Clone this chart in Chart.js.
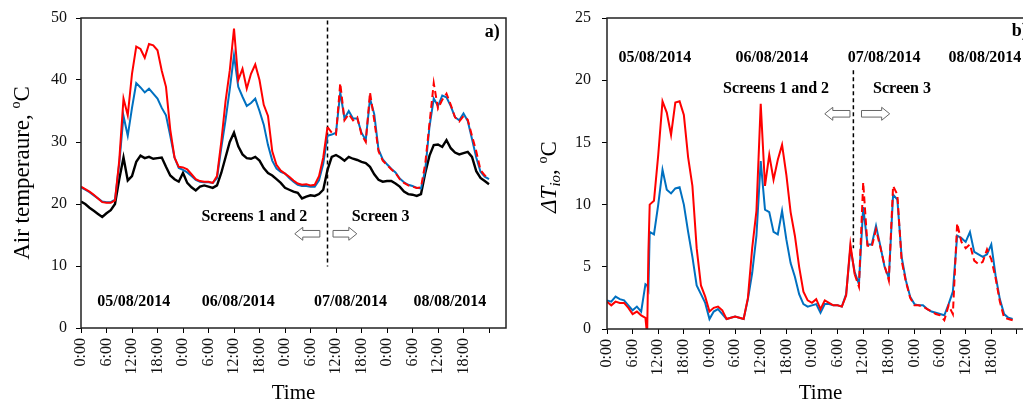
<!DOCTYPE html>
<html>
<head>
<meta charset="utf-8">
<script src="https://cdn.jsdelivr.net/npm/chart.js@4.4.0/dist/chart.umd.min.js"></script>
<style>
  html, body { margin: 0; padding: 0; overflow: hidden; background: #fff; width: 1023px; height: 408px; }
  canvas { position: absolute; top: 0; }
  #chartA { left: 0; }
  #chartB { left: 515px; }
</style>
</head>
<body>
<canvas id="chartA" width="515" height="408"></canvas>
<canvas id="chartB" width="530" height="408"></canvas>
<script>
// hours since 05/08/2014 0:00
const tickHours = [0, 6, 12, 18, 24, 30, 36, 42, 48, 54, 60, 66, 72, 78, 84, 90, 96];
const timeLabels = ['0:00', '6:00', '12:00', '18:00', '0:00', '6:00', '12:00', '18:00',
                    '0:00', '6:00', '12:00', '18:00', '0:00', '6:00', '12:00', '18:00'];
const dayLabels = ['05/08/2014', '06/08/2014', '07/08/2014', '08/08/2014'];

// a) air temperature
const hoursA = [0, 1, 2, 3, 4, 5, 6, 7, 8, 9, 10, 11, 12, 13, 14, 15, 16, 17, 18, 19,
  20, 21, 22, 23, 24, 25, 26, 27, 28, 29, 30, 31, 32, 33, 34, 35, 36, 37, 38, 39,
  40, 41, 42, 43, 44, 45, 46, 47, 48, 49, 50, 51, 52, 53, 54, 55, 56, 57, 58, 59,
  60, 61, 62, 63, 64, 65, 66, 67, 68, 69, 70, 71, 72, 73, 74, 75, 76, 77, 78, 79,
  80, 81, 82, 83, 84, 85, 86, 87, 88, 89, 90, 91, 92, 93, 94, 95, 96];
const redA = [22.8, 22.4, 22.0, 21.5, 20.9, 20.3, 20.2, 20.2, 20.6, 27.0,
  37.0, 34.3, 41.0, 45.4, 45.0, 43.6, 45.8, 45.6, 44.8, 41.5,
  38.9, 32.0, 27.5, 26.0, 25.9, 25.6, 24.8, 24.0, 23.7, 23.6,
  23.6, 23.4, 24.5, 30.0, 36.5, 41.5, 48.3, 40.0, 41.8, 38.6,
  41.0, 42.5, 40.0, 36.0, 34.2, 28.5, 26.3, 25.4, 24.9, 24.4,
  23.8, 23.3, 23.1, 23.2, 23.0, 23.1, 24.5, 27.5, 32.4, 31.5,
  31.2, 39.5, 33.5, 34.5, 33.5, 34.0, 31.2, 30.0, 38.0, 33.5,
  28.5, 27.0, 26.3, 25.6, 25.0, 24.0, 23.4, 23.0, 22.8, 22.6,
  22.7, 26.5, 33.0, 39.5, 35.4, 36.8, 37.8, 36.0, 34.0, 33.3,
  34.2, 33.6, 31.0, 28.5, 25.5, 24.6, 24.2];
const blueA = [22.7, 22.3, 21.9, 21.4, 20.9, 20.4, 20.3, 20.3, 20.7, 26.5,
  34.2, 31.0, 35.5, 39.5, 38.8, 38.0, 38.6, 37.8, 37.0, 35.5,
  34.3, 31.0, 27.5, 25.8, 25.5, 25.1, 24.5, 23.9, 23.6, 23.5,
  23.5, 23.4, 24.2, 29.0, 33.5, 38.5, 44.0, 38.9, 37.3, 35.8,
  36.3, 37.0, 35.0, 32.8, 29.5, 27.0, 25.7, 25.2, 24.9, 24.2,
  23.6, 23.1, 22.9, 22.9, 22.8, 22.8, 23.8, 26.5, 31.0, 31.2,
  31.5, 38.0, 33.8, 35.0, 33.8, 33.8, 31.5, 30.3, 37.0, 34.5,
  28.8, 27.2, 26.4, 25.7, 25.1, 24.1, 23.5, 23.1, 22.9, 22.6,
  22.5, 25.5, 32.5, 37.0, 35.8, 37.5, 37.2, 35.8, 34.0, 33.5,
  34.6, 33.4, 30.5, 27.5, 25.2, 24.4, 24.0];
const blackA = [20.4, 20.0, 19.4, 18.9, 18.4, 17.9, 18.5, 19.0, 20.0, 24.0,
  27.5, 23.8, 24.5, 26.8, 27.8, 27.4, 27.6, 27.3, 27.4, 27.5,
  26.0, 24.6, 24.0, 23.6, 25.0, 23.4, 22.7, 22.2, 22.8, 23.0,
  22.8, 22.6, 23.0, 25.0, 27.5, 30.0, 31.5, 29.3, 28.0, 27.4,
  27.3, 27.6, 27.0, 25.8, 25.0, 24.6, 24.0, 23.4, 22.6, 22.3,
  22.0, 21.8, 20.9, 21.2, 21.4, 21.3, 21.6, 22.3, 25.5, 27.6,
  27.9, 27.5, 27.0, 27.6, 27.3, 27.1, 26.8, 26.6, 26.0, 24.8,
  23.9, 23.6, 23.7, 23.7, 23.3, 22.8, 22.0, 21.6, 21.5, 21.3,
  21.6, 25.0, 27.8, 29.5, 29.6, 29.2, 30.3, 29.0, 28.3, 28.0,
  28.2, 28.4, 27.6, 25.3, 24.2, 23.7, 23.2];
const splitA = 58;
const splitLineA = [49.6, 9.9];

// b) inside-outside temperature difference
const hoursB = [0, 1, 2, 3, 4, 5, 6, 7, 8, 9, 9.4, 9.7, 10, 11, 12, 13, 14, 15, 16, 17, 18, 19,
  20, 21, 22, 23, 24, 25, 26, 27, 28, 29, 30, 31, 32, 33, 34, 35, 36, 37, 38, 39,
  40, 41, 42, 43, 44, 45, 46, 47, 48, 49, 50, 51, 52, 53, 54, 55, 56, 57, 58, 59,
  60, 61, 62, 63, 64, 65, 66, 67, 68, 69, 70, 71, 72, 73, 74, 75, 76, 77, 78, 79,
  80, 81, 82, 83, 84, 85, 86, 87, 88, 89, 90, 91, 92, 93, 94, 95];
const redB = [2.2, 1.9, 2.2, 2.1, 2.1, 1.7, 1.2, 1.4, 1.1, 0.9, -0.5, 6.2,
  10.0, 10.3, 14.0, 18.3, 17.4, 15.6, 18.2, 18.3, 17.2, 13.8,
  11.5, 6.5, 3.5, 2.6, 1.4, 1.7, 1.8, 1.5, 0.8, 0.9,
  1.0, 0.9, 0.8, 2.5, 6.5, 9.5, 18.1, 11.5, 14.0, 12.0,
  13.6, 14.8, 12.4, 9.4, 7.5, 5.0, 3.0, 2.3, 2.1, 2.4,
  1.6, 2.3, 2.1, 1.9, 1.9, 1.8, 2.7, 6.8, 4.4, 3.4,
  11.8, 6.7, 6.6, 8.0, 6.6, 5.1, 3.9, 11.5, 10.8, 5.5,
  3.8, 2.5, 1.9, 1.9, 1.8, 1.6, 1.4, 1.2, 1.1, 0.7,
  1.9, 1.2, 8.5, 7.0, 6.5, 6.8, 5.5, 5.2, 5.4, 6.4,
  5.6, 4.1, 2.2, 0.9, 0.8, 0.7];
const blueB = [2.3, 2.2, 2.6, 2.4, 2.3, 1.9, 1.5, 1.8, 1.4, 3.6, 3.5, 3.2,
  7.8, 7.6, 10.0, 12.8, 11.2, 10.9, 11.3, 11.4, 10.0, 7.8,
  5.8, 3.5, 2.8, 2.1, 0.8, 1.4, 1.6, 1.2, 0.8, 0.9,
  1.0, 0.9, 0.8, 2.4, 4.5, 7.5, 13.5, 9.6, 9.4, 7.8,
  7.6, 9.5, 7.2, 5.3, 4.2, 2.8, 2.0, 1.8, 1.9, 2.0,
  1.3, 2.0, 2.0, 1.9, 1.9, 1.8, 2.8, 6.5, 4.6, 3.6,
  9.8, 6.8, 6.8, 8.3, 6.7, 5.0, 4.1, 10.8, 10.4, 5.8,
  3.9, 2.6, 2.0, 1.9, 1.9, 1.6, 1.4, 1.3, 1.2, 1.1,
  2.0, 3.0, 7.5, 7.3, 7.0, 7.8, 6.2, 6.0, 5.8, 6.0,
  6.8, 4.3, 2.4, 1.2, 0.9, 0.8];
const splitB = 57.7;
const splitLineB = [20.8, 6.5];

const serif = "'Liberation Serif', 'Times New Roman', serif";
Chart.defaults.font.family = serif;
Chart.defaults.color = '#111';

function points(xs, ys) {
  return ys.map((v, i) => ({x: xs[i], y: v}));
}

function lineSet(data, color, width, split) {
  let ds = {
    data: data,
    borderColor: color,
    borderWidth: width,
    pointRadius: 0,
    tension: 0,
  };
  if (split != null) {
    // after the screen change the red line is dashed over the blue one
    ds.segment = { borderDash: c => c.p0.parsed.x >= split ? [7, 4] : undefined };
  }
  return ds;
}

function drawTitle(ctx, cx, cy, parts) {
  ctx.save();
  ctx.translate(cx, cy);
  ctx.rotate(-Math.PI / 2);
  ctx.textBaseline = 'middle';
  ctx.textAlign = 'left';
  let total = 0;
  parts.forEach(p => { ctx.font = p.font; total += ctx.measureText(p.text).width; });
  let x = -total / 2;
  parts.forEach(p => {
    ctx.font = p.font;
    ctx.fillText(p.text, x, p.dy || 0);
    x += ctx.measureText(p.text).width;
  });
  ctx.restore();
}

function drawArrow(ctx, x1, x2, y, dir) {
  let shaft = 3.3, head = 6.5, len = 8;
  ctx.beginPath();
  if (dir > 0) {
    ctx.moveTo(x1, y - shaft);
    ctx.lineTo(x2 - len, y - shaft);
    ctx.lineTo(x2 - len, y - head);
    ctx.lineTo(x2, y);
    ctx.lineTo(x2 - len, y + head);
    ctx.lineTo(x2 - len, y + shaft);
    ctx.lineTo(x1, y + shaft);
  } else {
    ctx.moveTo(x2, y - shaft);
    ctx.lineTo(x1 + len, y - shaft);
    ctx.lineTo(x1 + len, y - head);
    ctx.lineTo(x1, y);
    ctx.lineTo(x1 + len, y + head);
    ctx.lineTo(x1 + len, y + shaft);
    ctx.lineTo(x2, y + shaft);
  }
  ctx.closePath();
  ctx.fillStyle = '#fff';
  ctx.fill();
  ctx.strokeStyle = '#666';
  ctx.lineWidth = 1;
  ctx.stroke();
}

function notesPlugin(notes) {
  return {
    id: 'notes',
    afterDraw(chart) {
      const {ctx, chartArea: area, scales: {x, y}} = chart;
      ctx.save();
      ctx.strokeStyle = '#222';
      ctx.lineWidth = 1.5;
      ctx.strokeRect(area.left, area.top, area.right - area.left, area.bottom - area.top);

      ctx.fillStyle = '#000';
      ctx.textBaseline = 'middle';
      ctx.textAlign = 'center';
      ctx.font = 'bold 16px ' + serif;
      dayLabels.forEach((t, i) => {
        ctx.fillText(t, x.getPixelForValue(notes.dayX[i]), y.getPixelForValue(notes.dayY));
      });
      notes.screens.forEach(s => {
        ctx.fillText(s.text, x.getPixelForValue(s.x), y.getPixelForValue(s.y));
      });
      ctx.font = 'bold 18px ' + serif;
      ctx.textAlign = notes.tag.align;
      ctx.fillText(notes.tag.text, x.getPixelForValue(notes.tag.x), y.getPixelForValue(notes.tag.y));

      notes.arrows.forEach(a => {
        drawArrow(ctx, x.getPixelForValue(a.from), x.getPixelForValue(a.to), y.getPixelForValue(a.y), a.dir);
      });

      ctx.fillStyle = '#000';
      drawTitle(ctx, notes.titleX, notes.titleY, notes.title);
      ctx.restore();
    }
  };
}

function makeChart(id, cfg) {
  let ctx = document.getElementById(id).getContext('2d');
  return new Chart(ctx, {
    type: 'line',
    data: { datasets: cfg.datasets },
    options: {
      responsive: false,
      animation: false,
      events: [],
      layout: { padding: { left: 0, top: 18, right: cfg.padRight, bottom: 0 } },
      plugins: { legend: { display: false }, tooltip: { enabled: false } },
      scales: {
        x: {
          type: 'linear', min: 0, max: 100,
          afterBuildTicks: s => { s.ticks = tickHours.map(v => ({value: v})); },
          afterFit: s => { s.height = cfg.xHeight; s.paddingLeft = 0; s.paddingRight = 0; },
          grid: { display: true, drawOnChartArea: false, drawTicks: true, tickLength: 5, tickColor: '#000' },
          border: { display: false },
          ticks: {
            autoSkip: false, minRotation: 90, maxRotation: 90, padding: 5,
            color: '#111', font: { size: 16 },
            callback: (v, i) => timeLabels[i] || ''
          },
          title: { display: true, text: 'Time', color: '#000', font: { size: 21 }, padding: { top: 0, bottom: 2 } }
        },
        y: {
          min: 0, max: cfg.yMax,
          afterFit: s => { s.width = cfg.yWidth; s.paddingTop = 0; s.paddingBottom = 0; },
          grid: { display: true, drawOnChartArea: false, drawTicks: true, tickLength: 5, tickColor: '#000' },
          border: { display: false },
          ticks: { stepSize: cfg.yStep, padding: cfg.yPad, color: '#111', font: { size: 16 } }
        }
      }
    },
    plugins: [notesPlugin(cfg.notes)]
  });
}

const red = '#FF0000', blue = '#0070C0', black = '#000000';
const big = '23px ' + serif, small = '14px ' + serif;

makeChart('chartA', {
  padRight: 9, xHeight: 80, yWidth: 81, yMax: 50, yStep: 10, yPad: 9,
  datasets: [
    lineSet(points(hoursA, redA), red, 2, splitA),
    lineSet(points(hoursA, blueA), blue, 2),
    lineSet(points(hoursA, blackA), black, 2.4),
    Object.assign(lineSet(points([splitA, splitA], splitLineA), black, 1.5), { borderDash: [4, 3] })
  ],
  notes: {
    dayX: [12.4, 37, 63.4, 86.8], dayY: 4.2,
    screens: [{ text: 'Screens 1 and 2', x: 40.8, y: 17.9 }, { text: 'Screen 3', x: 70.5, y: 17.9 }],
    arrows: [{ from: 50.3, to: 56.2, y: 15.2, dir: -1 }, { from: 59.3, to: 64.9, y: 15.2, dir: 1 }],
    tag: { text: 'a)', x: 98.5, y: 47.7, align: 'right' },
    titleX: 23, titleY: 173,
    title: [
      { text: 'Air temperaure, ', font: big },
      { text: 'o', font: small, dy: -7 },
      { text: 'C', font: big }
    ]
  }
});

makeChart('chartB', {
  padRight: 11, xHeight: 79, yWidth: 92, yMax: 25, yStep: 5, yPad: 11,
  datasets: [
    lineSet(points(hoursB, redB), red, 2, splitB),
    lineSet(points(hoursB, blueB), blue, 2),
    Object.assign(lineSet(points([splitB, splitB], splitLineB), black, 1.5), { borderDash: [4, 3] })
  ],
  notes: {
    dayX: [11.2, 38.6, 64.9, 88.5], dayY: 21.8,
    screens: [{ text: 'Screens 1 and 2', x: 39.6, y: 19.3 }, { text: 'Screen 3', x: 69.1, y: 19.3 }],
    arrows: [{ from: 51.0, to: 56.9, y: 17.3, dir: -1 }, { from: 59.6, to: 66.2, y: 17.3, dir: 1 }],
    tag: { text: 'b)', x: 94.8, y: 23.9, align: 'left' },
    titleX: 35, titleY: 177,
    title: [
      { text: '\u0394T', font: 'italic ' + big },
      { text: 'io', font: 'italic 15px ' + serif, dy: 6 },
      { text: ', ', font: big },
      { text: 'o', font: small, dy: -7 },
      { text: 'C', font: big }
    ]
  }
});
</script>
</body>
</html>
